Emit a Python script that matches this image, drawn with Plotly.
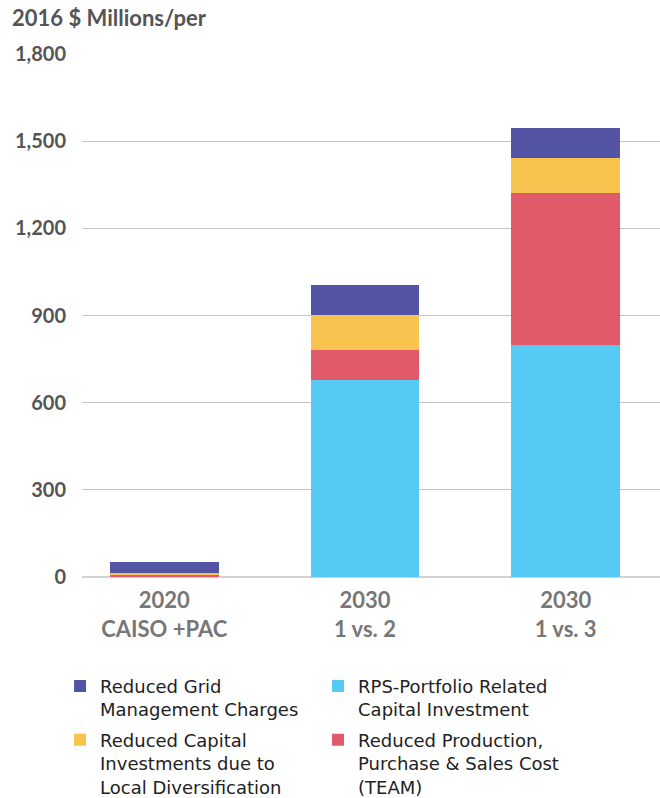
import plotly.graph_objects as go

categories = ["2020<br>CAISO +PAC", "2030<br>1 vs. 2", "2030<br>1 vs. 3"]

# stacked from bottom to top
rps_capital = [0, 679, 800]
production_cost = [10, 103, 522]
capital_diversification = [5, 121, 121]
grid_charges = [37, 103, 103]

# (name, values, colour, legend, rank within legend)
series = [
    ("RPS-Portfolio Related<br>Capital Investment", rps_capital, "#56C9F5", "legend", 2),
    ("Reduced Production,<br>Purchase & Sales Cost<br>(TEAM)", production_cost, "#E15A69", "legend2", 2),
    ("Reduced Capital<br>Investments due to<br>Local Diversification", capital_diversification, "#F9C350", "legend2", 1),
    ("Reduced Grid<br>Management Charges", grid_charges, "#5355A4", "legend", 1),
]

fig = go.Figure()
for name, vals, color, leg, rank in series:
    fig.add_trace(go.Bar(x=categories, y=vals, name=name, marker_color=color,
                         marker_line_width=0, legend=leg, legendrank=rank))

legend_style = dict(orientation="h", xanchor="left", yanchor="top",
                    entrywidth=213, entrywidthmode="pixels", valign="top",
                    traceorder="normal", bgcolor="rgba(0,0,0,0)",
                    font=dict(family="DejaVu Sans", size=18, color="#222"))

# figure is a bit taller than the window; the window crops the bottom edge
H = 830
fig.update_layout(
    width=660, height=H,
    margin=dict(l=82, r=0, t=54, b=H - 577.3, autoexpand=False),
    barmode="stack", bargap=0.458,
    plot_bgcolor="white", paper_bgcolor="white",
    font=dict(family="Lato", color="#555"),
    title=dict(text="<b>2016 $ Millions/per</b>", x=12/660, y=1-18/H,
               xref="container", yref="container", xanchor="left", yanchor="middle",
               font=dict(size=22, color="#555", family="Lato")),
    legend=dict(x=-0.038, y=-0.1735, **legend_style),
    legend2=dict(x=-0.038, y=-0.2765, **legend_style),
)
fig.update_xaxes(range=[-0.41, 2.47], showgrid=False, showline=False,
                 ticklabelstandoff=8,
                 tickfont=dict(size=22, color="#777", family="Lato", weight="bold"))
fig.update_yaxes(range=[0, 1800], dtick=300, tickformat=",d",
                 showgrid=True, gridcolor="#c4c4c4", gridwidth=1,
                 zeroline=True, zerolinecolor="#d2d2d2", zerolinewidth=2,
                 ticklabelstandoff=15,
                 tickfont=dict(size=20, color="#555", family="Lato", weight="bold"))

# no page margin or scrollbars, so the figure sits at the window's corner
fig.write_html("out.html", config={"displayModeBar": False},
               post_script="document.body.style.margin='0px';"
                           "document.body.style.overflow='hidden';")
